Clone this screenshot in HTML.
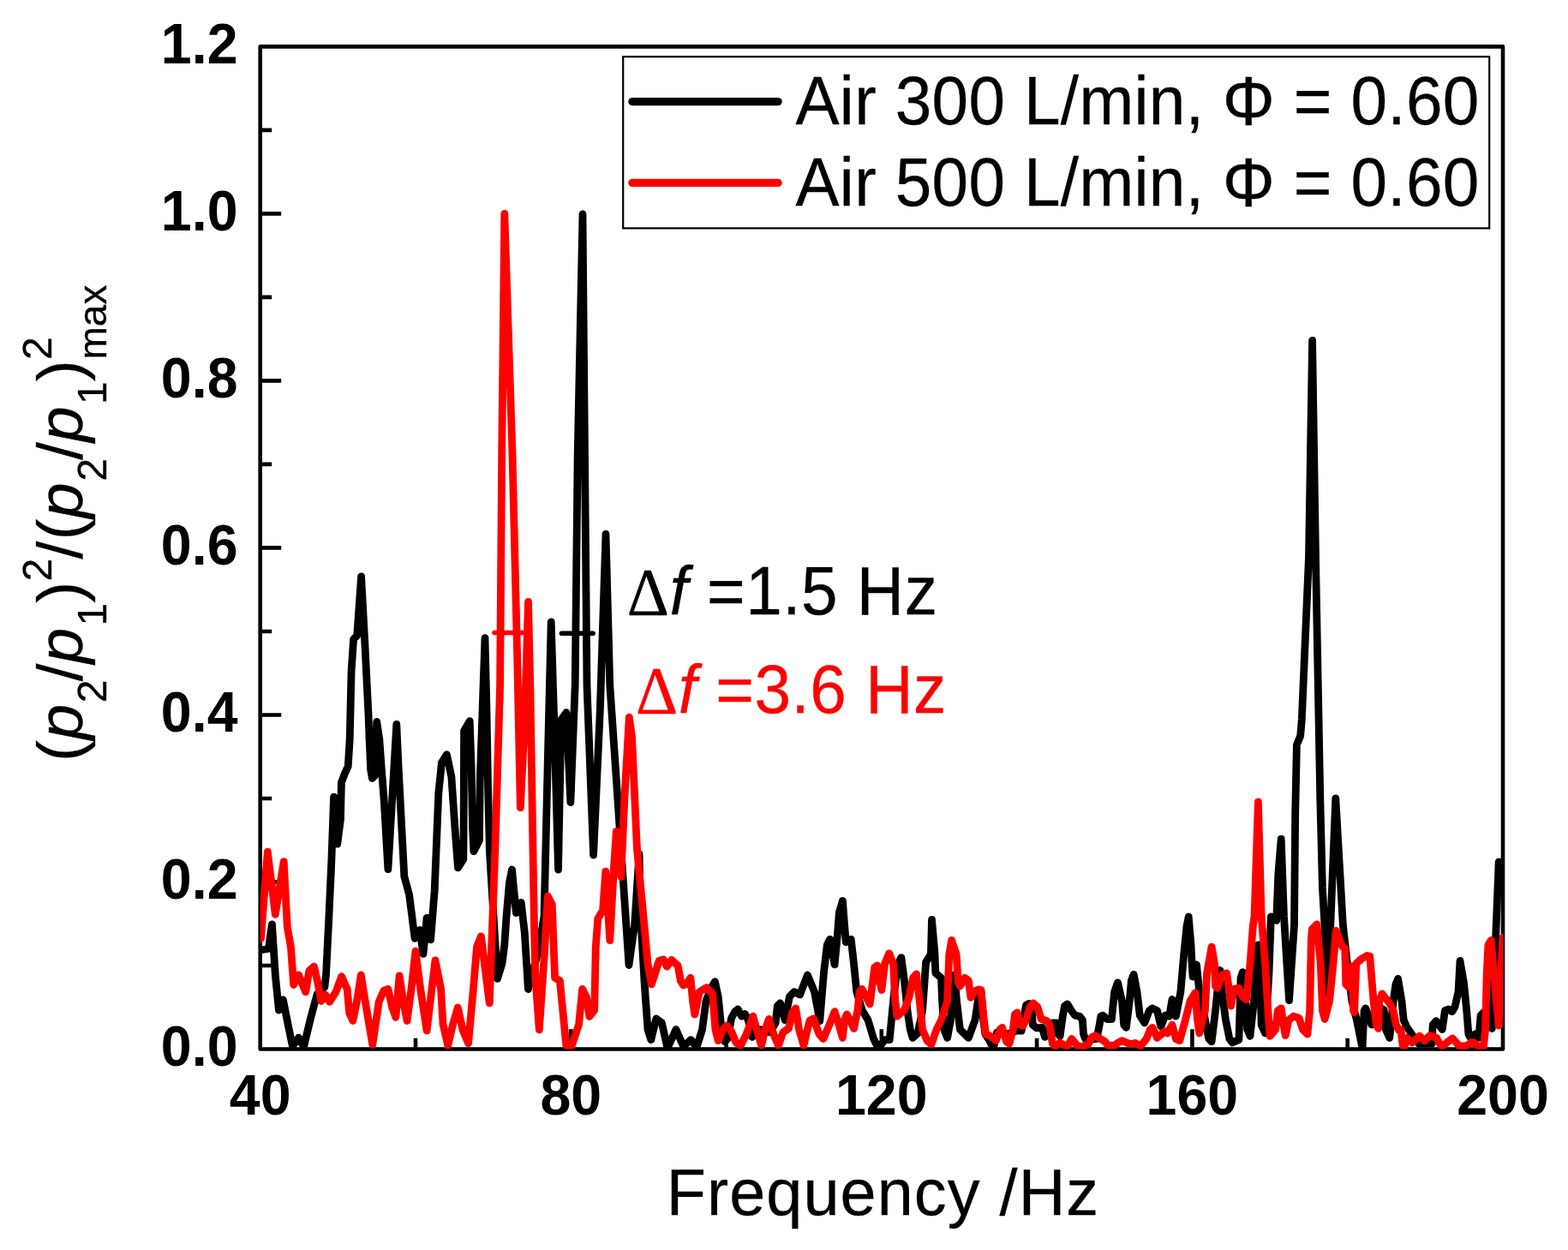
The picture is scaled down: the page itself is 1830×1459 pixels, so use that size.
<!DOCTYPE html>
<html lang="en"><head><meta charset="utf-8"><title>Frequency spectrum</title>
<style>html,body{margin:0;padding:0;background:#fff;overflow:hidden}svg{display:block}</style>
</head><body>
<svg width="1830" height="1459" viewBox="0 0 1830 1459">
<defs><clipPath id="c"><rect x="303.7" y="54.4" width="1450.3" height="1170.1"/></clipPath></defs>
<rect width="1830" height="1459" fill="#fff"/>
<path d="M303.7,1029.5h24.5M303.7,834.5h24.5M303.7,639.4h24.5M303.7,444.4h24.5M303.7,249.4h24.5M303.7,1127.0h13.5M303.7,932.0h13.5M303.7,737.0h13.5M303.7,541.9h13.5M303.7,346.9h13.5M303.7,151.9h13.5M666.3,1224.5v-23.3M1028.8,1224.5v-23.3M1391.4,1224.5v-23.3M485.0,1224.5v-12.8M847.6,1224.5v-12.8M1210.1,1224.5v-12.8M1572.7,1224.5v-12.8" stroke="#000" stroke-width="4.6" fill="none"/>
<rect x="303.7" y="54.4" width="1450.3" height="1170.1" fill="none" stroke="#000" stroke-width="4.6" stroke-linejoin="round"/>
<g clip-path="url(#c)" fill="none" stroke-linejoin="round" stroke-linecap="round">
<polyline points="303.6,1108.8 313.4,1107.1 317.5,1078.8 321.3,1138.0 325.4,1179.1 330.4,1166.8 336.1,1195.6 341.4,1221.1 348.5,1211.2 354.5,1221.9 362.8,1187.4 370.2,1160.2 378.9,1152.0 380.5,1138.0 383.8,1072.2 386.8,1006.4 389.6,930.1 393.7,985.2 397.5,956.1 398.4,913.3 402.4,902.9 406.2,894.7 408.2,862.9 410.1,782.9 412.6,746.0 416.7,741.9 421.6,672.8 425.8,750.0 429.9,832.2 431.1,862.9 432.6,898.0 434.4,908.4 438.0,904.6 438.8,873.9 439.7,842.4 442.8,862.9 445.2,895.8 448.2,934.2 452.9,1014.7 462.8,845.4 465.1,895.8 467.7,945.1 471.8,1022.9 477.6,1044.3 484.1,1095.3 489.9,1085.4 494.0,1113.4 498.1,1071.4 502.6,1096.9 507.2,1039.3 511.8,926.0 515.5,890.0 521.4,880.7 526.9,906.7 531.0,967.0 534.5,1012.9 540.8,1003.0 541.2,953.0 541.6,853.0 548.2,841.6 550.2,898.5 551.6,967.0 552.9,993.7 559.5,980.7 560.2,912.2 566.0,744.7 568.0,830.0 569.4,912.0 571.4,994.0 580.5,1142.4 586.0,1124.8 588.8,1102.9 591.0,1070.0 594.5,1030.0 597.5,1015.0 602.4,1065.7 608.2,1053.3 612.3,1088.7 616.4,1154.5 628.7,1108.4 635.0,1070.0 639.0,900.0 643.2,726.0 647.0,850.0 651.5,1015.0 655.0,840.0 660.9,831.7 665.9,936.5 671.2,800.0 674.2,530.0 680.0,250.0 682.5,530.0 685.0,800.0 692.6,998.0 700.3,830.0 707.0,623.3 711.8,800.0 722.4,955.0 734.0,1126.5 740.6,1080.0 746.0,997.0 747.7,1070.0 752.1,1146.8 756.0,1201.6 759.8,1213.6 765.8,1189.0 772.4,1193.9 779.0,1223.5 788.9,1201.6 797.6,1221.3 806.4,1213.6 813.0,1222.4 819.6,1201.6 823.9,1168.7 830.0,1153.3 834.4,1145.7 838.2,1163.2 841.5,1196.1 845.9,1215.8 849.2,1212.5 853.6,1188.4 857.9,1180.7 861.2,1178.0 865.6,1186.2 869.5,1183.5 873.3,1190.6 877.7,1210.4 887.5,1201.6 898.5,1204.9 905.1,1193.9 907.3,1174.2 910.6,1170.9 916.1,1190.6 921.5,1163.2 927.0,1157.7 933.6,1161.0 942.4,1138.0 950.5,1157.7 956.8,1191.7 961.4,1135.8 965.3,1102.9 968.6,1096.3 974.1,1125.9 977.3,1091.9 979.4,1065.1 983.4,1051.4 987.2,1099.6 993.2,1096.3 996.5,1124.8 999.8,1157.7 1006.4,1179.6 1013.0,1190.6 1019.6,1212.5 1025.0,1223.5 1032.7,1213.6 1038.2,1213.6 1040.4,1190.6 1043.7,1157.7 1048.1,1124.8 1051.9,1117.7 1055.7,1146.8 1059.0,1179.6 1062.3,1201.6 1065.1,1211.4 1071.1,1206.0 1076.6,1179.6 1079.0,1146.8 1080.6,1123.2 1086.4,1113.9 1087.3,1081.0 1087.5,1073.3 1090.8,1110.6 1091.9,1135.8 1098.5,1141.3 1099.6,1168.7 1101.8,1201.6 1105.6,1211.4 1109.5,1190.6 1113.9,1138.0 1116.6,1168.7 1120.4,1201.6 1130.3,1211.4 1138.0,1190.6 1142.4,1161.0 1145.0,1157.7 1147.7,1190.6 1149.9,1207.1 1154.9,1214.7 1159.3,1223.5 1163.6,1204.9 1170.2,1207.1 1177.9,1206.5 1185.6,1203.2 1192.1,1203.2 1197.6,1173.1 1200.9,1171.4 1204.2,1179.6 1205.3,1196.1 1209.7,1199.9 1216.3,1199.4 1219.6,1210.4 1223.9,1201.6 1228.3,1193.9 1232.7,1193.9 1234.9,1207.1 1237.1,1209.3 1240.4,1185.1 1242.6,1174.2 1245.9,1172.0 1250.3,1179.6 1254.6,1185.1 1260.1,1186.2 1263.4,1190.6 1264.5,1207.1 1266.7,1212.5 1271.1,1213.6 1279.9,1212.5 1283.2,1196.1 1284.8,1186.2 1287.0,1185.1 1291.9,1189.5 1297.4,1189.5 1300.7,1157.7 1304.5,1146.8 1309.5,1168.7 1311.7,1196.1 1314.4,1199.4 1318.2,1168.7 1320.4,1144.6 1323.2,1137.3 1327.0,1157.7 1330.3,1185.1 1335.8,1193.9 1341.3,1179.6 1345.0,1176.9 1350.5,1179.6 1354.9,1198.3 1359.8,1185.1 1364.7,1186.2 1368.0,1166.5 1372.4,1186.2 1377.9,1157.7 1381.7,1113.9 1385.0,1081.0 1387.2,1070.0 1390.0,1102.9 1391.1,1124.8 1392.1,1140.2 1396.5,1125.9 1399.8,1157.7 1403.1,1168.7 1406.4,1190.6 1410.8,1212.5 1414.1,1215.8 1418.5,1179.6 1421.8,1146.8 1423.9,1132.5 1426.1,1157.7 1430.5,1190.6 1434.9,1212.5 1438.2,1216.9 1445.9,1213.6 1447.0,1179.6 1448.1,1141.3 1450.3,1134.7 1453.6,1168.7 1455.7,1201.6 1459.0,1209.3 1463.4,1168.7 1468.4,1102.9 1471.1,1157.7 1472.2,1196.1 1476.6,1206.0 1481.0,1135.8 1483.4,1070.0 1489.7,1074.4 1491.9,1019.6 1495.2,979.1 1498.5,1070.0 1504.5,1167.6 1510.5,1080.0 1511.7,950.0 1513.4,869.4 1517.7,859.0 1519.3,840.0 1527.5,650.0 1531.6,397.3 1535.5,650.0 1540.8,932.8 1543.4,1035.7 1546.0,1080.0 1548.8,1161.0 1552.8,1080.0 1558.8,931.8 1567.4,1080.0 1572.4,1124.8 1577.9,1168.7 1583.4,1190.6 1590.0,1223.5 1592.1,1179.6 1593.8,1176.9 1600.9,1196.1 1607.5,1175.3 1615.2,1178.6 1617.4,1201.6 1621.8,1211.4 1626.1,1168.7 1628.9,1148.9 1631.6,1142.4 1636.0,1168.7 1638.2,1190.6 1641.5,1198.3 1649.2,1209.3 1655.7,1218.0 1671.1,1218.0 1672.2,1196.1 1676.0,1191.7 1681.0,1198.3 1683.2,1201.6 1686.4,1179.6 1690.3,1178.0 1694.7,1180.7 1698.0,1175.3 1702.0,1157.7 1704.0,1121.5 1708.4,1146.8 1711.7,1179.6 1713.9,1207.1 1715.5,1210.4 1721.5,1207.1 1725.9,1211.4 1728.1,1185.1 1731.4,1181.8 1735.8,1190.6 1741.3,1200.5 1749.2,1006.0 1754.0,1012.0" stroke="#000" stroke-width="8.8"/>
<polyline points="304.5,1095.3 312.3,994.1 321.3,1067.3 331.2,1005.6 335.3,1082.1 339.4,1105.1 342.7,1149.5 348.5,1138.0 356.7,1157.8 360.8,1133.1 366.5,1128.2 370.7,1146.2 374.8,1168.5 379.7,1161.1 384.6,1169.3 392.0,1157.8 398.6,1139.7 405.2,1154.5 407.7,1182.4 411.8,1191.5 416.7,1167.6 421.3,1138.0 426.6,1170.9 434.8,1219.4 442.2,1169.3 448.0,1156.1 452.9,1154.5 457.8,1175.9 461.9,1187.4 466.1,1138.8 471.0,1170.9 475.1,1191.5 480.0,1154.5 485.0,1110.1 490.7,1154.5 498.1,1203.0 503.9,1154.5 508.0,1120.8 514.6,1154.5 517.0,1195.6 522.8,1220.3 528.6,1195.6 534.3,1175.9 540.1,1202.2 546.6,1217.8 552.4,1154.5 556.5,1105.1 561.4,1092.8 571.3,1170.9 574.3,1088.7 577.9,990.0 583.6,800.0 585.7,530.0 588.8,249.5 598.0,530.0 604.0,780.0 607.3,942.7 612.0,850.0 616.5,702.5 618.8,800.0 623.3,1070.0 624.8,1140.0 629.3,1202.0 635.0,1120.0 639.3,1046.0 644.3,1055.8 647.6,1141.3 653.4,1144.6 660.8,1220.3 667.4,1220.3 675.6,1195.6 679.7,1154.5 684.6,1164.3 687.9,1186.5 693.7,1179.1 695.3,1105.1 697.8,1072.2 703.6,1062.4 706.8,1017.1 711.8,1097.7 716.0,1020.0 719.3,970.4 724.8,1023.5 729.0,930.0 734.3,837.2 737.5,860.0 740.0,914.5 743.4,990.0 751.0,1070.0 756.0,1124.8 760.4,1148.9 764.7,1135.8 769.1,1121.5 774.1,1119.9 778.4,1128.1 783.9,1120.4 791.1,1127.0 794.3,1144.6 797.6,1150.0 800.9,1148.9 805.9,1141.3 808.6,1168.7 810.8,1184.0 816.3,1157.7 824.5,1152.8 831.6,1159.9 834.9,1201.6 838.2,1214.7 843.7,1201.6 848.1,1197.2 853.6,1203.8 859.0,1216.9 864.5,1220.2 871.1,1207.1 878.8,1186.2 883.2,1201.6 888.6,1220.2 893.0,1201.6 897.4,1189.5 902.9,1207.1 908.4,1220.2 913.9,1204.9 920.4,1200.5 924.8,1181.8 928.7,1176.9 932.5,1201.6 938.0,1220.2 942.4,1201.6 945.0,1191.2 949.4,1189.0 956.0,1207.1 960.9,1212.5 968.0,1196.1 974.1,1180.7 979.0,1196.1 983.4,1211.4 985.6,1190.6 988.3,1184.0 992.1,1190.6 996.5,1200.5 1000.9,1179.6 1003.1,1157.7 1005.9,1154.4 1010.8,1163.2 1015.2,1172.0 1018.5,1146.8 1020.7,1129.2 1023.9,1127.0 1027.2,1146.8 1028.9,1155.5 1032.7,1124.8 1037.7,1112.8 1042.6,1124.8 1044.8,1168.7 1047.0,1186.2 1055.7,1178.6 1061.2,1163.2 1065.6,1141.3 1069.5,1136.9 1073.3,1168.7 1076.6,1201.6 1082.1,1214.7 1087.0,1219.1 1093.0,1201.6 1098.5,1190.6 1105.6,1168.7 1107.8,1113.9 1110.6,1097.4 1116.1,1113.9 1118.2,1146.8 1120.4,1151.1 1125.9,1141.3 1130.3,1144.6 1133.0,1164.3 1138.0,1156.6 1142.4,1155.0 1145.0,1155.5 1148.3,1190.6 1150.5,1207.1 1156.0,1209.3 1162.5,1214.7 1166.9,1201.6 1169.7,1199.4 1174.6,1215.8 1177.9,1218.0 1182.3,1201.6 1184.5,1184.0 1187.2,1181.8 1191.1,1196.1 1193.8,1197.2 1197.6,1190.6 1202.0,1175.3 1205.9,1170.9 1210.8,1175.3 1215.2,1189.5 1221.8,1191.7 1225.0,1196.1 1228.3,1218.0 1231.6,1221.3 1237.1,1216.9 1242.6,1220.2 1245.9,1221.3 1250.8,1212.5 1256.8,1220.2 1261.2,1221.9 1270.0,1219.1 1274.4,1210.4 1278.2,1208.7 1284.3,1212.5 1289.7,1215.8 1293.0,1220.2 1300.7,1220.2 1305.1,1216.9 1309.5,1214.7 1316.1,1217.5 1320.4,1218.6 1324.8,1217.5 1331.4,1220.8 1338.0,1212.5 1342.4,1201.6 1345.0,1199.4 1350.5,1211.4 1359.3,1203.8 1362.5,1206.0 1368.0,1196.1 1372.4,1212.5 1376.8,1214.7 1383.4,1190.6 1388.9,1168.7 1394.9,1158.8 1397.6,1190.6 1399.8,1206.0 1406.4,1179.6 1408.6,1135.8 1414.1,1105.1 1417.4,1124.8 1418.5,1151.1 1420.7,1153.3 1426.1,1138.0 1431.6,1135.8 1434.9,1157.7 1436.6,1174.2 1440.4,1154.4 1445.9,1153.3 1450.3,1163.2 1454.6,1166.5 1459.0,1124.8 1462.3,1081.0 1464.0,1070.0 1468.4,935.8 1472.2,1070.0 1476.6,1124.8 1479.9,1179.6 1482.1,1209.3 1488.6,1201.6 1491.4,1179.6 1495.2,1176.9 1498.0,1196.1 1500.2,1208.7 1504.0,1190.6 1509.5,1186.2 1516.1,1188.4 1520.4,1201.6 1525.9,1207.1 1528.7,1179.6 1530.3,1097.4 1531.4,1084.3 1536.9,1078.8 1541.3,1124.8 1543.5,1179.6 1546.1,1189.5 1551.6,1168.7 1556.0,1124.8 1559.3,1086.4 1566.9,1105.1 1569.7,1107.3 1570.8,1148.9 1574.1,1152.2 1576.2,1129.2 1577.9,1128.1 1579.5,1179.6 1580.6,1181.8 1582.8,1124.8 1588.9,1119.3 1595.4,1115.5 1598.7,1116.1 1603.1,1168.7 1606.4,1196.1 1608.6,1200.5 1609.7,1168.7 1613.0,1159.9 1621.8,1170.9 1626.1,1179.6 1629.4,1196.1 1632.7,1202.7 1634.9,1201.6 1637.1,1220.2 1639.3,1221.3 1641.5,1211.4 1648.1,1216.9 1656.8,1209.3 1662.9,1214.7 1668.9,1208.7 1676.6,1211.4 1679.9,1218.0 1683.2,1221.3 1688.6,1216.9 1695.2,1212.0 1699.6,1216.9 1702.9,1220.8 1711.7,1220.8 1717.7,1216.4 1722.6,1219.1 1727.0,1221.9 1731.4,1221.9 1733.6,1201.6 1735.2,1135.8 1736.9,1102.9 1740.2,1097.4 1749.1,1197.0 1754.0,1094.0" stroke="#f00" stroke-width="8.8"/>
</g>
<path d="M577,738.5H615" stroke="#f00" stroke-width="5.6" stroke-linecap="round"/>
<path d="M655.5,739.3H692" stroke="#000" stroke-width="5.6" stroke-linecap="round"/>
<rect x="727.2" y="66.2" width="1011" height="200.2" fill="#fff" stroke="#000" stroke-width="2.2"/>
<path d="M738,118.6H908" stroke="#000" stroke-width="9.4" stroke-linecap="round"/>
<path d="M738,213.4H908" stroke="#f00" stroke-width="9.4" stroke-linecap="round"/>
<g font-family="'Liberation Sans', sans-serif" font-size="76.5" letter-spacing="0.35" fill="#000" stroke="#000" stroke-width="0.3">
<text transform="translate(928.5,144.8) scale(1,1.03)">Air 300 L/min, Φ = 0.60</text>
<text transform="translate(928.5,239.5) scale(1,1.03)">Air 500 L/min, Φ = 0.60</text>
</g>
<g font-family="'Liberation Sans', sans-serif" font-weight="bold" font-size="64.5" fill="#000">
<text transform="translate(277.5,1244.3) scale(1,1.035)" text-anchor="end">0.0</text>
<text transform="translate(277.5,1049.3) scale(1,1.035)" text-anchor="end">0.2</text>
<text transform="translate(277.5,854.3) scale(1,1.035)" text-anchor="end">0.4</text>
<text transform="translate(277.5,659.2) scale(1,1.035)" text-anchor="end">0.6</text>
<text transform="translate(277.5,464.2) scale(1,1.035)" text-anchor="end">0.8</text>
<text transform="translate(277.5,269.2) scale(1,1.035)" text-anchor="end">1.0</text>
<text transform="translate(277.5,74.2) scale(1,1.035)" text-anchor="end">1.2</text>
<text transform="translate(303.7,1300.5) scale(1,1.035)" text-anchor="middle">40</text>
<text transform="translate(666.3,1300.5) scale(1,1.035)" text-anchor="middle">80</text>
<text transform="translate(1028.8,1300.5) scale(1,1.035)" text-anchor="middle">120</text>
<text transform="translate(1391.4,1300.5) scale(1,1.035)" text-anchor="middle">160</text>
<text transform="translate(1754.0,1300.5) scale(1,1.035)" text-anchor="middle">200</text>
</g>
<text x="1030.5" y="1417.7" text-anchor="middle" font-family="'Liberation Sans', sans-serif" font-size="75.6" letter-spacing="1.07" fill="#000" stroke="#000" stroke-width="0.3">Frequency /Hz</text>
<text transform="translate(731.7,717.2) scale(1,1.03)" stroke="#000" stroke-width="0.3" font-family="'Liberation Sans', sans-serif" font-size="76.5" letter-spacing="0.53" fill="#000"><tspan font-family="'Liberation Serif', 'DejaVu Serif', serif">Δ</tspan><tspan font-style="italic">f</tspan> =1.5 Hz</text>
<text transform="translate(742,831.7) scale(1,1.03)" stroke="#f00" stroke-width="0.3" font-family="'Liberation Sans', sans-serif" font-size="76.5" letter-spacing="0.53" fill="#f00"><tspan font-family="'Liberation Serif', 'DejaVu Serif', serif">Δ</tspan><tspan font-style="italic">f</tspan> =3.6 Hz</text>
<g transform="translate(96,888) rotate(-90)" font-family="'Liberation Sans', sans-serif" font-size="72" fill="#000" stroke="#000" stroke-width="0.3">
<text><tspan x="-1.0" y="0.0" font-size="75">(</tspan><tspan x="24.5" y="0.0" font-size="75" font-style="italic">p</tspan><tspan x="67.8" y="27.5" font-size="48">2</tspan><tspan x="92.8" y="0.0" font-size="75">/</tspan><tspan x="113.5" y="0.0" font-size="75" font-style="italic">p</tspan><tspan x="157.5" y="27.5" font-size="48">1</tspan><tspan x="184.3" y="0.0" font-size="75">)</tspan><tspan x="209.6" y="-36.4" font-size="48">2</tspan><tspan x="235.6" y="0.0" font-size="75">/</tspan><tspan x="257.4" y="0.0" font-size="75">(</tspan><tspan x="282.9" y="0.0" font-size="75" font-style="italic">p</tspan><tspan x="326.2" y="27.5" font-size="48">2</tspan><tspan x="351.2" y="0.0" font-size="75">/</tspan><tspan x="371.9" y="0.0" font-size="75" font-style="italic">p</tspan><tspan x="415.9" y="27.5" font-size="48">1</tspan><tspan x="442.7" y="0.0" font-size="75">)</tspan><tspan x="468.0" y="-36.4" font-size="48">2</tspan><tspan x="468.5" y="27.5" font-size="46">max</tspan></text>
</g>
</svg>
</body></html>
